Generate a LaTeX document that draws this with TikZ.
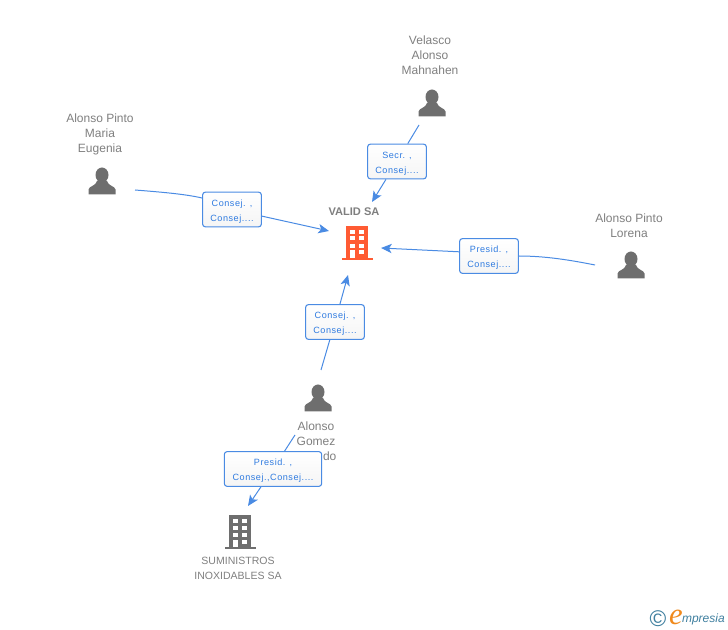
\documentclass[tikz,border=0pt]{standalone}
\usepackage{fontspec}
\setmainfont{Liberation Sans}
\newfontfamily\rolefont[LetterSpace=6]{Liberation Sans}
\newfontfamily\logofont{Liberation Serif}
\usetikzlibrary{arrows.meta}
\definecolor{namegray}{HTML}{7F7F7F}
\definecolor{icongray}{HTML}{6E6E6E}
\definecolor{vermilion}{HTML}{FF5B33}
\definecolor{linkblue}{HTML}{4A8BE3}
\definecolor{roleblue}{HTML}{2F7BE0}
\definecolor{logoteal}{HTML}{3F7F9F}
\definecolor{logoorange}{HTML}{F08A1D}
\newcommand{\rolestrut}{\rule{0pt}{8pt}}
\tikzset{
  pics/person/.style={code={
    \fill[icongray] (0,-6) ellipse (6.5 and 7.5);
    \fill[icongray] (-13.5,13.5) -- (-13.5,8.5) .. controls (-13,5) and (-6,5) .. (-5,0)
      -- (5,0) .. controls (6,5) and (13,5) .. (13.5,8.5) -- (13.5,13.5) -- cycle;
  }},
  pics/building/.style={code={
    \fill[#1] (-11,-16) rectangle (11,16);
    \fill[#1] (-15.5,16) rectangle (15.5,18);
    \foreach \y in {-12,-5.5,2,8.5} {
      \fill[white] (-7,\y) rectangle (-2.3,\y+4);
      \fill[white] (2,\y) rectangle (7,\y+4);
    }
    \fill[white] (-7,8.5) rectangle (-2.3,16);
  }}
}
\begin{document}
\begin{tikzpicture}[x=0.75pt, y=-0.75pt,
  iconbox/.style={minimum size=20pt, inner sep=0pt},
  name text/.style={align=center, text=namegray, font=\fontsize{9}{11.25}\selectfont},
  role box/.style={draw=linkblue, line width=0.8pt, rounded corners=2pt, top color=white, bottom color=black!4,
    text=roleblue, align=center, inner sep=0pt, minimum height=26pt,
    font=\rolefont\fontsize{6.8}{11.25}\selectfont},
  link/.style={linkblue, line width=0.75pt},
  head/.style={-{Stealth[length=8pt, width=7pt, inset=2pt]}}]
\useasboundingbox (0,0) rectangle (728,630);
% people and companies
\node[iconbox] (velasco) at (432,103) {};
\node[iconbox] (maria) at (102,181) {};
\node[iconbox] (lorena) at (631,265) {};
\node[iconbox] (gomez) at (318,398) {};
\node[iconbox] (valid) at (357,242) {};
\node[iconbox] (suministros) at (240,531) {};
\pic at (velasco) {person};
\pic at (maria) {person};
\pic at (lorena) {person};
\pic at (gomez) {person};
\pic at (valid) {building=vermilion};
\pic at (suministros) {building=icongray};
% names
\node[name text] (velascotext) at (430,55) {Velasco\\Alonso\\Mahnahen};
\node[name text] (mariatext) at (100,134) {Alonso Pinto\\Maria\\Eugenia};
\node[name text] (lorenatext) at (629,225.5) {Alonso Pinto\\Lorena};
\node[name text] (gomeztext) at (316,441) {Alonso\\Gomez\\\phantom{Alvar}do};
\node[name text, font=\bfseries\fontsize{8.3}{10}\selectfont] (validtext) at (354,212) {VALID SA};
\node[name text, font=\fontsize{7.9}{11.25}\selectfont] (suministrostext) at (238,568.5) {SUMINISTROS\\INOXIDABLES SA};
% role boxes
\node[role box, minimum width=44pt] (velascorole) at (397,161.5) {\rolestrut Secr. ,\\Consej....};
\node[role box, minimum width=44pt] (mariarole) at (232,209.5) {\rolestrut Consej. ,\\Consej....};
\node[role box, minimum width=44pt] (lorenarole) at (489,256) {\rolestrut Presid. ,\\Consej....};
\node[role box, minimum width=44pt] (gomezrole) at (335,322) {\rolestrut Consej. ,\\Consej....};
\node[role box, minimum width=73pt] (suministrosrole) at (273,469) {\rolestrut Presid. ,\\Consej.,Consej....};
% free ends of the links
\coordinate (velascoend) at (419,125);
\coordinate (mariaend) at (135,190);
\coordinate (lorenaend) at (595,265);
\coordinate (gomezend) at (321,370);
\coordinate (gomezend2) at (295,435);
\coordinate (validtop) at (372,202);
\coordinate (validleft) at (329,231);
\coordinate (validright) at (381,248);
\coordinate (validbottom) at (348,275);
\coordinate (suministrostop) at (248,506);
\path[link]
(velascoend) edge (velascorole)
(gomezend) edge (gomezrole)
(gomezend2) edge (suministrosrole);
\draw[link] (mariaend) .. controls (160,192) and (185,194) .. (mariarole.159);
\draw[link] (lorenaend) .. controls (570,260) and (545,256) .. (lorenarole.east);
\path[link, head]
(velascorole) edge (validtop)
(mariarole) edge (validleft)
(lorenarole.172) edge (validright)
(gomezrole) edge (validbottom)
(suministrosrole) edge (suministrostop);
% logo
\node[text=logoteal, inner sep=0pt, font=\fontsize{17}{17}\selectfont] (copyright) at (658,619) {\textcopyright};
\node[text=logoorange, inner sep=0pt, font=\logofont\itshape\fontsize{23}{23}\selectfont] (logoe) at (676,617) {e};
\node[text=logoteal, inner sep=0pt, anchor=east, font=\itshape\fontsize{9}{10}\selectfont] (logotext) at (725,619) {mpresia};
\end{tikzpicture}
\end{document}
